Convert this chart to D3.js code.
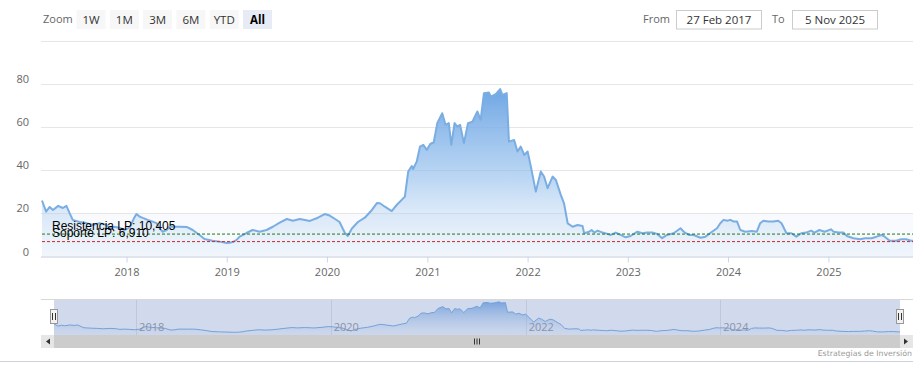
<!DOCTYPE html>
<html><head><meta charset="utf-8">
<script src="https://cdn.jsdelivr.net/npm/d3@7"></script>
<style>
html,body{margin:0;padding:0;background:#fff;}
svg{display:block;font-family:"Open Sans",sans-serif;}
</style></head>
<body>
<svg id="chart" width="924" height="378"></svg>
<script>
// ---------- DATA ----------
const dates = [
"2017-02-27","2017-03-14","2017-03-27","2017-04-08","2017-04-27","2017-05-14","2017-05-27","2017-06-08","2017-06-19","2017-07-14","2017-08-08","2017-08-31","2017-09-25","2017-10-20","2017-11-01","2017-11-19","2017-12-07","2017-12-25",
"2018-01-13","2018-01-27","2018-02-06","2018-02-18","2018-03-01","2018-03-19","2018-04-06","2018-04-20","2018-05-01","2018-05-12","2018-05-27","2018-06-07","2018-07-13","2018-08-08","2018-08-30","2018-09-24","2018-10-12","2018-11-10","2018-12-06",
"2019-01-01","2019-01-12","2019-01-23","2019-02-06","2019-02-17","2019-03-14","2019-04-05","2019-05-01","2019-05-26","2019-06-18","2019-07-13","2019-08-08","2019-08-30","2019-09-24","2019-10-31","2019-11-29","2019-12-24",
"2020-01-11","2020-01-29","2020-02-16","2020-03-06","2020-03-17","2020-04-01","2020-04-23","2020-05-18","2020-06-13","2020-07-01","2020-07-12","2020-07-30","2020-08-24","2020-09-11","2020-10-11","2020-10-23","2020-11-05","2020-11-10","2020-11-23","2020-12-05","2020-12-17","2020-12-30",
"2021-01-12","2021-01-24","2021-02-06","2021-02-24","2021-03-08","2021-03-20","2021-03-29","2021-04-10","2021-04-20","2021-04-30","2021-05-14","2021-05-29","2021-06-14","2021-07-02","2021-07-14","2021-07-26","2021-08-13","2021-08-20","2021-09-07","2021-09-23","2021-10-01","2021-10-17","2021-10-25","2021-11-13","2021-11-25","2021-12-07","2021-12-20",
"2022-01-01","2022-01-13","2022-01-31","2022-02-18","2022-03-02","2022-03-15","2022-04-02","2022-04-14","2022-05-02","2022-05-14","2022-05-27","2022-06-14","2022-07-02","2022-07-20","2022-07-26","2022-08-13","2022-08-22","2022-09-01","2022-09-13","2022-10-01","2022-10-19","2022-10-31","2022-11-18","2022-12-06","2022-12-24",
"2023-01-11","2023-02-05","2023-02-23","2023-03-13","2023-03-31","2023-04-18","2023-05-06","2023-05-24","2023-06-17","2023-07-12","2023-07-24","2023-08-11","2023-08-29","2023-09-23","2023-10-11","2023-11-04","2023-11-22","2023-12-04","2023-12-16","2023-12-29",
"2024-01-10","2024-01-22","2024-02-03","2024-02-15","2024-03-04","2024-03-28","2024-04-15","2024-04-27","2024-05-09","2024-05-27","2024-06-14","2024-07-02","2024-07-14","2024-08-01","2024-08-19","2024-09-06","2024-09-24","2024-10-12","2024-10-30","2024-11-11","2024-11-29","2024-12-18",
"2025-01-10","2025-01-20","2025-02-07","2025-02-25","2025-03-09","2025-04-02","2025-04-26","2025-05-14","2025-06-07","2025-06-25","2025-07-13","2025-07-25","2025-08-12","2025-09-05","2025-09-23","2025-10-11","2025-10-29","2025-11-05"
];
const prices = [
26,20.8,23,21.6,23.5,22.5,23.5,20,17,16,15.5,14.6,15.5,14.6,13.2,13.8,13.2,12.3,
13.5,17.5,19.7,18.5,17.9,17,16.2,15.5,13.2,11.5,12.3,13.8,13.8,13.7,12.3,10,8.1,7.3,6.9,
6.3,6.4,6.7,7.7,9.2,10.9,12.3,11.5,12.3,13.8,15.7,17.4,16.6,17.4,16.5,18,19.7,
19,17.5,16,11,9.5,13,16,18,21.6,24.8,24.7,23.1,21.1,23.9,27.8,39.4,42,40.6,44,51,51.8,49.5,
52.3,52.9,61.9,66.5,61.1,61.9,51.8,61.9,60.3,61.1,52.6,61.9,62.6,67.3,63.4,75.8,76.1,74.2,75.3,77.7,75,75.8,53.3,54.1,48.7,51,47.1,
48.7,41.7,30.1,39.4,37.1,31.7,37.1,35.5,28.6,24.5,15.4,13.8,14.6,14.2,10.8,11.5,12.3,11.1,12,11.1,10.5,10,11.1,10,8.9,
9.5,11.5,10.8,11.1,11.1,10.5,8.5,10,10.8,13.1,11.5,10,10,8.7,9.2,11.5,13.1,15.4,17,16.6,
17,16.2,16.2,12.3,11.5,11.8,11.5,15.4,16.6,16.2,16.2,16.6,15.4,10.8,10.8,9.2,10.8,11.1,12,11.1,12.3,11.5,
12.6,11.5,11.1,11.1,9.5,8.5,8,8.5,8.5,9.2,10,9.2,7.3,7.3,8,8,7.3,7.3
];
const yTicks = [0,20,40,60,80,100];
const rangeButtons = ["1W","1M","3M","6M","YTD","All"];
const selectedButton = "All";
const fromLabel = "27 Feb 2017";
const toLabel = "5 Nov 2025";
const resistance = 10.405;
const support = 6.910;
const resistanceLabel = "Resistencia LP: 10,405";
const supportLabel = "Soporte LP: 6,910";
const creditText = "Estrategias de Inversión";

// ---------- SETUP ----------
const parse = d3.timeParse("%Y-%m-%d");
const data = dates.map((d,i)=>({t:parse(d), v:prices[i]}));
const svg = d3.select("#chart");
const t0 = parse("2017-02-27"), t1 = parse("2025-11-05");

const x = d3.scaleTime().domain([t0,t1]).range([42,913]);
const y = d3.scaleLinear().domain([0,100]).range([256.5,41]);

const defs = svg.append("defs");
const grad = defs.append("linearGradient").attr("id","areaGrad")
  .attr("gradientUnits","userSpaceOnUse").attr("x1",0).attr("x2",0).attr("y1",y(80)).attr("y2",y(0));
grad.append("stop").attr("offset","0").attr("stop-color","#6aa3e3").attr("stop-opacity",1);
grad.append("stop").attr("offset","0.55").attr("stop-color","#8fbcec").attr("stop-opacity",0.6);
grad.append("stop").attr("offset","1").attr("stop-color","#c9ddf5").attr("stop-opacity",0.15);

// faint band 0-20
svg.append("rect").attr("x",42).attr("width",871).attr("y",y(20)).attr("height",y(0)-y(20))
  .attr("fill","#f8fafd");

// gridlines
svg.append("g").selectAll("line").data(yTicks.filter(d=>d>0)).join("line")
  .attr("x1",41).attr("x2",913).attr("y1",d=>Math.round(y(d))+0.5).attr("y2",d=>Math.round(y(d))+0.5)
  .attr("stroke","#e6e6e6").attr("stroke-width",1);

// y labels
svg.append("g").selectAll("text").data(yTicks.filter(d=>d<100)).join("text")
  .attr("x",29).attr("y",d=>y(d)-1).attr("text-anchor","end")
  .attr("font-size",11).attr("fill","#666").text(d=>d);

// area + line
const area = d3.area().x(d=>x(d.t)).y0(y(0)).y1(d=>y(d.v)).curve(d3.curveLinear);
const line = d3.line().x(d=>x(d.t)).y(d=>y(d.v));
svg.append("path").datum(data).attr("d",area).attr("fill","url(#areaGrad)");
svg.append("path").datum(data).attr("d",line).attr("fill","none")
  .attr("stroke","#7aaee3").attr("stroke-width",2).attr("stroke-linejoin","round");

// x axis
const xAxis = d3.axisBottom(x).ticks(d3.timeYear.every(1)).tickFormat(d3.timeFormat("%Y")).tickSize(6).tickPadding(6);
const gx = svg.append("g").attr("transform",`translate(0,${y(0)})`).call(xAxis);
gx.select(".domain").attr("stroke","#e0e4ec").attr("stroke-width",2).attr("d","M41,0.5H913");
gx.selectAll(".tick line").attr("stroke","#ccd6eb");
gx.selectAll(".tick text").attr("font-size",11).attr("fill","#666").attr("font-family","Open Sans");

// plot lines
svg.append("line").attr("x1",42).attr("x2",913).attr("y1",y(resistance)).attr("y2",y(resistance))
  .attr("stroke","#1a7a1a").attr("stroke-width",1).attr("stroke-dasharray","3,2");
svg.append("line").attr("x1",42).attr("x2",913).attr("y1",y(support)).attr("y2",y(support))
  .attr("stroke","#d02828").attr("stroke-width",1).attr("stroke-dasharray","3,2");
svg.append("text").attr("x",52).attr("y",y(resistance)-4.5).attr("font-family","Liberation Sans, Arial")
  .attr("font-size",12).attr("fill","#000").text(resistanceLabel);
svg.append("text").attr("x",52).attr("y",y(support)-4.5).attr("font-family","Liberation Sans, Arial")
  .attr("font-size",12).attr("fill","#000").text(supportLabel);

// ---------- RANGE SELECTOR ----------
svg.append("text").attr("x",43).attr("y",23).attr("font-size",11).attr("fill","#666").text("Zoom");
const bg = svg.append("g").selectAll("g").data(rangeButtons).join("g")
  .attr("transform",(d,i)=>`translate(${76.5+i*33.3},10)`);
bg.append("rect").attr("width",29).attr("height",19).attr("fill",d=>d===selectedButton?"#e6ebf5":"#f7f7f7");
bg.append("text").attr("x",14.5).attr("y",13.5).attr("text-anchor","middle").attr("font-size",11.5)
  .attr("fill",d=>d===selectedButton?"#000":"#333").attr("font-weight",d=>d===selectedButton?"bold":"normal").text(d=>d);

svg.append("text").attr("x",643).attr("y",23).attr("font-size",11).attr("fill","#666").text("From");
svg.append("text").attr("x",772).attr("y",23).attr("font-size",11).attr("fill","#666").text("To");
[[676.5,fromLabel],[792.5,toLabel]].forEach(([bx,t])=>{
  svg.append("rect").attr("x",bx).attr("y",10.5).attr("width",85).attr("height",18.5)
    .attr("fill","#fff").attr("stroke","#cccccc");
  svg.append("text").attr("x",bx+42.5).attr("y",24).attr("text-anchor","middle").attr("font-size",11.5)
    .attr("fill","#333").text(t);
});

// ---------- NAVIGATOR ----------
const xn = d3.scaleTime().domain([t0,t1]).range([54,900]);
const yn = d3.scaleLinear().domain([0,82]).range([335,300]);
const navGrad = defs.append("linearGradient").attr("id","navGrad")
  .attr("gradientUnits","userSpaceOnUse").attr("x1",0).attr("x2",0).attr("y1",300).attr("y2",335);
navGrad.append("stop").attr("offset","0").attr("stop-color","#6aa3e3").attr("stop-opacity",0.9);
navGrad.append("stop").attr("offset","1").attr("stop-color","#c9ddf5").attr("stop-opacity",0.1);

const navTicks = xn.ticks(d3.timeYear.every(2));
svg.append("g").selectAll("line").data(navTicks).join("line")
  .attr("x1",d=>Math.round(xn(d))+0.5).attr("x2",d=>Math.round(xn(d))+0.5).attr("y1",299).attr("y2",335)
  .attr("stroke","#e6e6e6");
svg.append("path").datum(data).attr("d",d3.area().x(d=>xn(d.t)).y0(335).y1(d=>yn(d.v))).attr("fill","url(#navGrad)");
svg.append("path").datum(data).attr("d",d3.line().x(d=>xn(d.t)).y(d=>yn(d.v))).attr("fill","none")
  .attr("stroke","#7aaee3").attr("stroke-width",1);
svg.append("g").selectAll("text").data(navTicks).join("text")
  .attr("x",d=>xn(d)+3).attr("y",331).attr("font-size",11).attr("fill","#999").text(d3.timeFormat("%Y"));
svg.append("rect").attr("x",54).attr("y",299).attr("width",846).attr("height",36)
  .attr("fill","rgba(102,133,194,0.3)");
svg.append("line").attr("x1",41).attr("x2",913).attr("y1",299.5).attr("y2",299.5).attr("stroke","#d8d8d8");
[54,900].forEach(hx=>{
  const g = svg.append("g").attr("transform",`translate(${hx},0)`);
  g.append("rect").attr("x",-3.5).attr("y",309.5).attr("width",7).attr("height",14)
    .attr("fill","#f2f2f2").attr("stroke","#999");
  g.append("line").attr("x1",-1.5).attr("x2",-1.5).attr("y1",313).attr("y2",320).attr("stroke","#333");
  g.append("line").attr("x1",1.5).attr("x2",1.5).attr("y1",313).attr("y2",320).attr("stroke","#333");
});
svg.append("rect").attr("x",41).attr("y",335).attr("width",872).attr("height",13).attr("fill","#f2f2f2");
svg.append("rect").attr("x",54).attr("y",335).attr("width",846).attr("height",13).attr("fill","#cccccc");
[[41,"M50,338.5L46,341.5L50,344.5Z"],[900,"M904,338.5L908,341.5L904,344.5Z"]].forEach(([bx,p])=>{
  svg.append("rect").attr("x",bx).attr("y",335).attr("width",13).attr("height",13).attr("fill","#e6e6e6");
  svg.append("path").attr("d",p).attr("fill","#333");
});
[-2.5,0,2.5].forEach(o=>{
  svg.append("line").attr("x1",477+o).attr("x2",477+o).attr("y1",338.5).attr("y2",344.5).attr("stroke","#333");
});

svg.append("line").attr("x1",0).attr("x2",913).attr("y1",361.5).attr("y2",361.5).attr("stroke","#ccd0e0");
svg.append("text").attr("x",912).attr("y",356).attr("text-anchor","end").attr("font-size",7.8)
  .attr("font-family","DejaVu Sans").attr("fill","#999").text(creditText);
</script>
</body></html>
